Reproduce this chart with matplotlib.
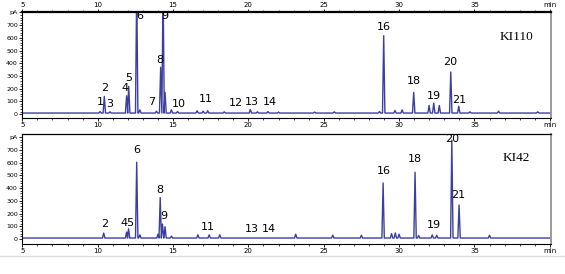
import numpy as np
import matplotlib
matplotlib.use("Agg")
import matplotlib.pyplot as plt
from matplotlib.lines import Line2D

# ---- peak tables (retention time min, height pA)
ki110_t = [10.16, 10.44, 10.82, 11.92, 12.06, 12.59, 12.8, 13.9, 14.18, 14.34, 14.47,
           14.89, 15.3, 16.6, 17.0, 17.3, 18.4, 20.13, 20.6, 21.3, 22.0, 24.4, 25.7,
           28.7, 28.98, 29.73, 30.2, 30.97, 31.99, 32.3, 32.67, 33.43, 33.96, 34.7,
           36.6, 39.2]
ki110_h = [12, 131, 10, 136, 210, 1000, 25, 15, 360, 1000, 163,
           25, 12, 18, 15, 18, 10, 28, 10, 12, 8, 8, 10,
           12, 609, 20, 25, 163, 60, 79, 60, 323, 53, 10,
           15, 10]

ki42_t = [10.4, 11.92, 12.05, 12.59, 12.8, 14.0, 14.15, 14.3, 14.47, 14.9, 16.65,
          17.4, 18.1, 23.14, 25.6, 27.5, 28.94, 29.5, 29.75, 30.0, 31.06, 31.3,
          32.2, 32.5, 33.5, 33.98, 36.0]
ki42_h = [39, 47, 73, 596, 25, 30, 318, 110, 89, 15, 25,
          25, 25, 30, 22, 22, 433, 35, 40, 30, 517, 20,
          25, 22, 770, 260, 22]

# peak numbers (label, time, pA)
ki110_lab = [("1", 10.16, 97), ("2", 10.44, 202), ("3", 10.82, 79), ("4", 11.84, 202),
             ("5", 12.08, 281), ("6", 12.77, 775), ("7", 13.61, 97), ("8", 14.12, 428),
             ("9", 14.45, 768), ("10", 15.4, 79), ("11", 17.21, 118), ("12", 19.18, 87),
             ("13", 20.24, 97), ("14", 21.43, 97), ("16", 28.98, 683), ("18", 30.97, 262),
             ("19", 32.32, 139), ("20", 33.4, 412), ("21", 33.98, 113)]
ki42_lab = [("2", 10.44, 115), ("45", 11.95, 129), ("6", 12.59, 700), ("8", 14.14, 386),
            ("9", 14.38, 184), ("11", 17.28, 92), ("13", 20.22, 79), ("14", 21.37, 79),
            ("16", 28.96, 532), ("18", 31.04, 630), ("19", 32.32, 110), ("20", 33.51, 785),
            ("21", 33.89, 346)]

baseline = 8
halfw = 0.08
xt = [5, 10, 15, 20, 25, 30, 35, 40]
xtl = ["5", "10", "15", "20", "25", "30", "35", "min"]
yt = [0, 100, 200, 300, 400, 500, 600, 700, 800]
ytl = ["0", "100", "200", "300", "400", "500", "600", "700", "pA"]

narrow = ["Liberation Sans Narrow", "DejaVu Sans"]
line_col = "#3c3f9e"


def trace(ts, hs):
    xs = [5.0]
    ys = [baseline]
    for t, h in sorted(zip(ts, hs)):
        xs += [t - halfw, t, t + halfw]
        ys += [baseline, baseline + h, baseline]
    xs.append(40.1)
    ys.append(baseline)
    return xs, ys


fig = plt.figure(figsize=(5.65, 2.74), dpi=100)
ax1 = fig.add_axes([0.0395, 0.5693, 0.9357, 0.3858])
ax2 = fig.add_axes([0.0395, 0.1095, 0.9357, 0.4014])

panels = [(ax1, ki110_t, ki110_h, ki110_lab, "KI110", (-31, 801), 0.766),
          (ax2, ki42_t, ki42_h, ki42_lab, "KI42", (-39, 826), 0.78)]

for ax, ts, hs, labs, name, ylim, ny in panels:
    x, y = trace(ts, hs)
    ax.plot(x, y, color=line_col, lw=1.0)
    ax.set_xlim(5, 40.08)
    ax.set_ylim(*ylim)
    ax.set_xticks(xt)
    ax.set_xticklabels(xtl, family=narrow, fontsize=5)
    ax.set_xticks(np.arange(5, 41, 1), minor=True)
    ax.set_yticks(yt)
    ax.set_yticklabels(ytl, family=narrow, fontsize=4.5)
    ax.set_yticks(np.arange(0, 801, 20), minor=True)
    ax.tick_params(axis="both", which="major", length=2.2, width=0.6, pad=1, direction="out")
    ax.tick_params(axis="both", which="minor", length=1.4, width=0.5, direction="out")
    for lab, t, v in labs:
        ax.text(t, v, lab, ha="center", va="center", fontsize=8, family=narrow)
    ax.text(0.935, ny, name, transform=ax.transAxes, ha="center", va="center",
            fontsize=9.5, family="Liberation Serif")
    ax.spines["right"].set_color("#9a9a9a")
    ax.spines["right"].set_linewidth(1.4)
    ax.spines["left"].set_linewidth(0.8)
    ax.spines["bottom"].set_linewidth(0.8)

ax1.spines["top"].set_linewidth(1.6)
ax1.tick_params(axis="x", which="both", top=True, labeltop=True)
ax2.spines["top"].set_linewidth(0.9)

fig.add_artist(Line2D([0, 1], [1 - 256 / 274] * 2, color="#dddddd", lw=1))

fig.savefig("out.png", dpi=100)
